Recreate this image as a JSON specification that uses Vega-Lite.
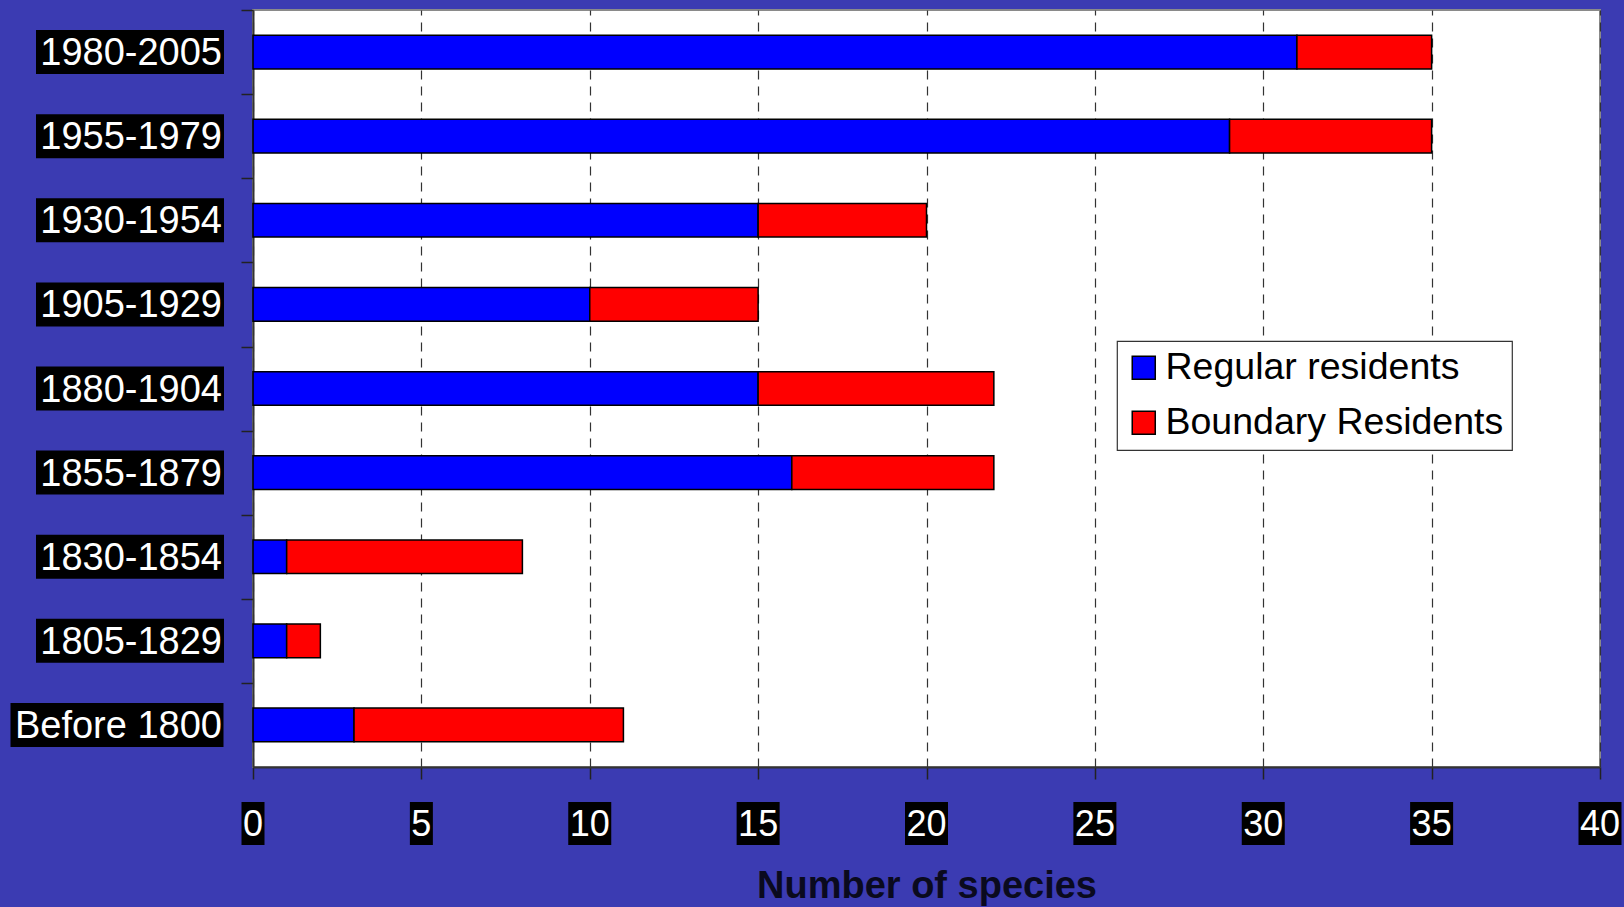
{
  "$schema": "https://vega.github.io/schema/vega-lite/v6.json",
  "width": 1347,
  "height": 757,
  "autosize": {"type": "none"},
  "padding": {"left": 253, "top": 10, "right": 24, "bottom": 140},
  "background": "#3b3bb2",
  "datasets": {
    "species": [
      {"period": "1980-2005", "series": "Regular residents", "count": 31},
      {"period": "1980-2005", "series": "Boundary Residents", "count": 4},
      {"period": "1955-1979", "series": "Regular residents", "count": 29},
      {"period": "1955-1979", "series": "Boundary Residents", "count": 6},
      {"period": "1930-1954", "series": "Regular residents", "count": 15},
      {"period": "1930-1954", "series": "Boundary Residents", "count": 5},
      {"period": "1905-1929", "series": "Regular residents", "count": 10},
      {"period": "1905-1929", "series": "Boundary Residents", "count": 5},
      {"period": "1880-1904", "series": "Regular residents", "count": 15},
      {"period": "1880-1904", "series": "Boundary Residents", "count": 7},
      {"period": "1855-1879", "series": "Regular residents", "count": 16},
      {"period": "1855-1879", "series": "Boundary Residents", "count": 6},
      {"period": "1830-1854", "series": "Regular residents", "count": 1},
      {"period": "1830-1854", "series": "Boundary Residents", "count": 7},
      {"period": "1805-1829", "series": "Regular residents", "count": 1},
      {"period": "1805-1829", "series": "Boundary Residents", "count": 1},
      {"period": "Before 1800", "series": "Regular residents", "count": 3},
      {"period": "Before 1800", "series": "Boundary Residents", "count": 8}
    ],
    "ticks": [
      {"tick": 0}, {"tick": 5}, {"tick": 10}, {"tick": 15}, {"tick": 20},
      {"tick": 25}, {"tick": 30}, {"tick": 35}, {"tick": 40}
    ]
  },
  "encoding": {
    "y": {
      "field": "period",
      "type": "nominal",
      "sort": ["1980-2005", "1955-1979", "1930-1954", "1905-1929", "1880-1904", "1855-1879", "1830-1854", "1805-1829", "Before 1800"],
      "scale": {"paddingInner": 0.6, "paddingOuter": 0.3},
      "axis": {
        "title": null,
        "labels": false,
        "ticks": true,
        "tickOffset": -42,
        "tickSize": 12,
        "tickColor": "#222222",
        "tickWidth": 1.5,
        "domainColor": "#333333",
        "domainWidth": 2,
        "grid": false
      }
    }
  },
  "layer": [
    {
      "data": {"name": "species"},
      "mark": {"type": "bar", "stroke": "#000000", "strokeWidth": 1.5},
      "encoding": {
        "x": {
          "field": "count",
          "type": "quantitative",
          "stack": "zero",
          "scale": {"domain": [0, 40], "nice": false},
          "axis": {
            "values": [0, 5, 10, 15, 20, 25, 30, 35, 40],
            "labels": false,
            "tickSize": 12,
            "tickColor": "#222222",
            "tickWidth": 1.5,
            "domainColor": "#333333",
            "domainWidth": 2,
            "grid": true,
            "gridColor": "#333333",
            "gridDash": [9, 7],
            "gridWidth": 1.2,
            "title": "Number of species",
            "titleFont": "Liberation Sans",
            "titleFontSize": 38,
            "titleFontWeight": "bold",
            "titleColor": "#0a0a1e",
            "titlePadding": 88
          }
        },
        "color": {
          "field": "series",
          "type": "nominal",
          "scale": {"domain": ["Regular residents", "Boundary Residents"], "range": ["#0000ff", "#ff0000"]},
          "legend": {"title": null}
        },
        "order": {"field": "series", "sort": "descending"}
      }
    },
    {
      "data": {"name": "species"},
      "transform": [{"filter": "datum.series === 'Regular residents' && datum.period !== 'Before 1800'"}],
      "mark": {"type": "tick", "orient": "horizontal", "color": "#000000", "opacity": 1, "size": 188, "thickness": 44, "xOffset": -123},
      "encoding": {"x": {"datum": 0}}
    },
    {
      "data": {"name": "species"},
      "transform": [{"filter": "datum.series === 'Regular residents' && datum.period === 'Before 1800'"}],
      "mark": {"type": "tick", "orient": "horizontal", "color": "#000000", "opacity": 1, "size": 213, "thickness": 44, "xOffset": -136},
      "encoding": {"x": {"datum": 0}}
    },
    {
      "data": {"name": "species"},
      "transform": [{"filter": "datum.series === 'Regular residents'"}],
      "mark": {"type": "text", "align": "right", "baseline": "middle", "dx": -31, "dy": 2, "font": "Liberation Sans", "fontSize": 38, "fill": "#ffffff"},
      "encoding": {"x": {"datum": 0}, "text": {"field": "period"}}
    },
    {
      "data": {"name": "ticks"},
      "transform": [{"filter": "datum.tick < 10"}],
      "mark": {"type": "tick", "orient": "vertical", "color": "#000000", "opacity": 1, "size": 43, "thickness": 23, "yOffset": 98.6},
      "encoding": {"x": {"field": "tick", "type": "quantitative"}, "y": {"datum": "Before 1800"}}
    },
    {
      "data": {"name": "ticks"},
      "transform": [{"filter": "datum.tick >= 10"}],
      "mark": {"type": "tick", "orient": "vertical", "color": "#000000", "opacity": 1, "size": 43, "thickness": 43, "yOffset": 98.6},
      "encoding": {"x": {"field": "tick", "type": "quantitative"}, "y": {"datum": "Before 1800"}}
    },
    {
      "data": {"name": "ticks"},
      "mark": {"type": "text", "align": "center", "baseline": "middle", "dy": 100, "font": "Liberation Sans", "fontSize": 36, "fill": "#ffffff"},
      "encoding": {"x": {"field": "tick", "type": "quantitative"}, "y": {"datum": "Before 1800"}, "text": {"field": "tick", "type": "quantitative"}}
    }
  ],
  "config": {
    "font": "Liberation Sans",
    "view": {"fill": "#ffffff", "stroke": "#8a8a8a", "strokeWidth": 2},
    "legend": {
      "orient": "none",
      "legendX": 864,
      "legendY": 331,
      "padding": 8,
      "fillColor": "#ffffff",
      "strokeColor": "#333333",
      "strokeWidth": 1.2,
      "cornerRadius": 0,
      "labelFont": "Liberation Sans",
      "labelFontSize": 37.5,
      "labelColor": "#000000",
      "labelOffset": 3,
      "labelLimit": 500,
      "symbolType": "square",
      "symbolSize": 530,
      "symbolStrokeColor": "#000000",
      "symbolStrokeWidth": 1.5,
      "rowPadding": 16
    }
  }
}
